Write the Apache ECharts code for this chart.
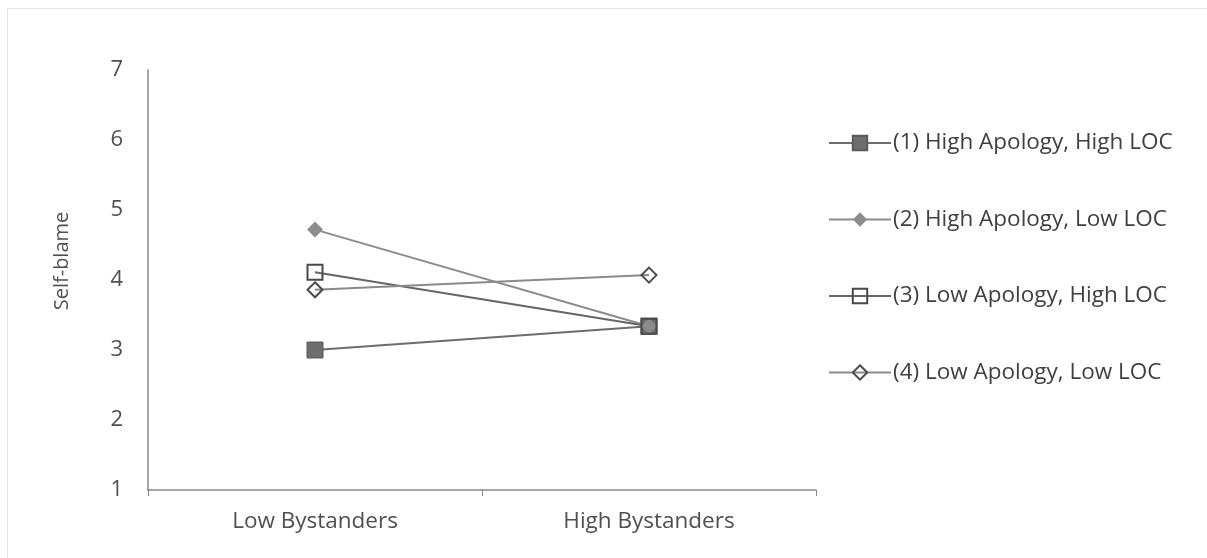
<!DOCTYPE html>
<html>
<head>
<meta charset="utf-8">
<script src="https://cdn.jsdelivr.net/npm/echarts@6/dist/echarts.min.js"></script>
<style>
html,body{margin:0;padding:0;background:#fff;}
#c{width:1207px;height:558px;}
</style>
</head>
<body>
<div id="c"></div>
<script>
const categories = ['Low Bystanders', 'High Bystanders'];
const seriesNames = [
  '(1) High Apology, High LOC',
  '(2) High Apology, Low LOC',
  '(3) Low Apology, High LOC',
  '(4) Low Apology, Low LOC'
];
const s1 = [3.0, 3.34];
const s2 = [4.72, 3.34];
const s3 = [4.11, 3.34];
const s4 = [3.86, 4.07];
const yTicks = [1, 7, 1];

const font = '"Open Sans", "Liberation Sans", sans-serif';
const chart = echarts.init(document.getElementById('c'), null, {renderer: 'canvas'});

function mk(name, data, symbol, size, lineColor, fill, border, bw) {
  return {
    name: name, type: 'line', data: data,
    symbol: symbol, symbolSize: size, showSymbol: true,
    lineStyle: {color: lineColor, width: 2},
    itemStyle: {color: fill, borderColor: border, borderWidth: bw},
    emphasis: {disabled: true},
    animation: false
  };
}

chart.setOption({
  backgroundColor: '#fff',
  animation: false,
  graphic: [
    {type: 'line', shape: {x1: 7, y1: 8.5, x2: 1207, y2: 8.5}, style: {stroke: '#e3e3e3', lineWidth: 1}},
    {type: 'line', shape: {x1: 7.5, y1: 8, x2: 7.5, y2: 558}, style: {stroke: '#e3e3e3', lineWidth: 1}}
  ],
  grid: {left: 148, right: 391, top: 70, bottom: 68, containLabel: false},
  legend: {
    orient: 'vertical', left: 823, top: 126,
    itemWidth: 62, itemHeight: 18, itemGap: 52.5,
    data: seriesNames,
    textStyle: {fontFamily: font, fontSize: 22.5, color: '#404040', lineHeight: 24, padding: [0, 0, 0, -3]}
  },
  xAxis: {
    type: 'category', data: categories, boundaryGap: true,
    axisLine: {lineStyle: {color: '#888', width: 1.5}},
    axisTick: {show: true, length: 6, lineStyle: {color: '#888'}},
    axisLabel: {fontFamily: font, fontSize: 22.5, color: '#505050', margin: 20}
  },
  yAxis: {
    type: 'value', min: yTicks[0], max: yTicks[1], interval: yTicks[2],
    name: 'Self-blame', nameLocation: 'middle', nameRotate: 90, nameGap: 76,
    nameTextStyle: {fontFamily: font, fontSize: 20, color: '#505050', padding: [0, 0, 0, 38]},
    splitLine: {show: false},
    axisLine: {show: true, lineStyle: {color: '#888', width: 1.5}},
    axisTick: {show: false},
    axisLabel: {fontFamily: font, fontSize: 22, color: '#505050', margin: 25}
  },
  series: [
    mk(seriesNames[0], s1, 'rect', 16, '#6c6c6c', '#6e6e6e', '#5a5a5a', 1),
    mk(seriesNames[1], s2, 'diamond', 16, '#8c8c8c', '#8c8c8c', '#8c8c8c', 0),
    mk(seriesNames[2], s3, 'rect', 15, '#666666', 'rgba(0,0,0,0)', '#4a4a4a', 2),
    mk(seriesNames[3], s4, 'diamond', 15, '#8a8a8a', 'rgba(0,0,0,0)', '#4a4a4a', 2)
  ]
});
</script>
</body>
</html>
